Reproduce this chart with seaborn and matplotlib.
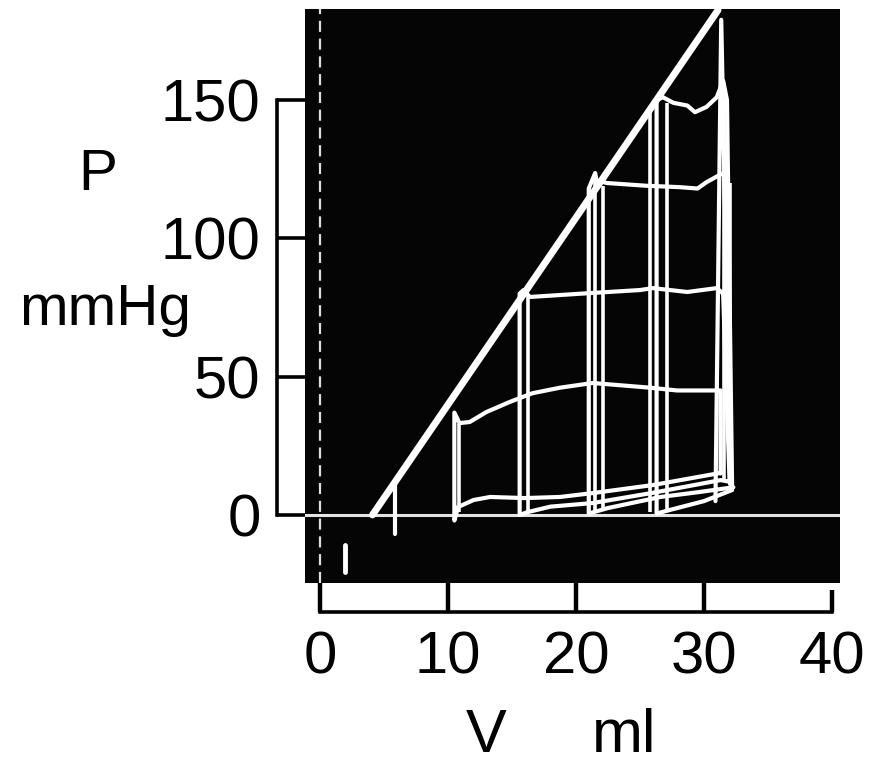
import matplotlib
matplotlib.use("Agg")
import matplotlib.pyplot as plt
import seaborn as sns
import pandas as pd

# ---------------- data ----------------
# end-systolic pressure-volume line
espvr_v = [4.1, 31.1]
espvr_p = [0.0, 182.5]

# individual pressure-volume loops (V in ml, P in mmHg)
loop_a_v = [32.2, 31.8, 31.5, 31.0, 30.2, 29.3, 28.7, 27.6, 26.8, 26.3, 26.3, 27.5, 30.0, 32.2]
loop_a_p = [10.0, 150.0, 157.0, 151.0, 147.5, 145.6, 148.0, 149.0, 151.0, 150.0, 0.5, 2.0, 5.0, 9.0]

loop_b_v = [32.1, 31.6, 31.5, 30.2, 29.5, 28.1, 25.5, 22.4, 21.6, 21.5, 21.0, 21.0, 22.5, 26.6, 29.5, 32.3]
loop_b_p = [11.0, 122.0, 123.6, 120.3, 118.0, 118.5, 119.0, 120.0, 121.0, 123.6, 118.0, 0.5, 2.5, 6.5, 8.2, 10.0]

loop_c_v = [32.0, 31.5, 31.0, 28.7, 26.0, 25.0, 21.1, 16.4, 15.9, 15.6, 15.6, 16.2, 18.0, 21.3, 26.0, 31.3, 32.0]
loop_c_p = [12.0, 80.0, 82.0, 80.6, 82.0, 81.3, 80.2, 78.8, 81.3, 80.0, 0.0, 1.0, 3.0, 4.3, 8.0, 12.6, 12.0]

loop_d_v = [31.3, 31.3, 27.9, 25.8, 21.3, 18.75, 16.6, 14.8, 13.0, 11.7, 10.9, 10.5, 10.5, 10.8, 12.0, 13.3, 16.0, 18.75, 21.3, 26.0, 31.3]
loop_d_p = [15.0, 45.0, 45.0, 46.0, 47.7, 46.0, 44.0, 40.8, 37.2, 33.6, 33.2, 37.0, -2.0, 2.9, 5.4, 6.5, 6.1, 6.5, 7.9, 10.8, 15.2]

loop_f_v = [32.1, 31.35, 30.9]          # near-isovolumic beat
loop_f_p = [9.0, 179.0, 5.0]

loop_e_v = [5.9, 5.9]                   # smallest beat
loop_e_p = [-7.0, 11.5]

# repeated beats: extra vertical traces
vert_v = [10.9, 16.25, 21.5, 22.1, 25.8, 27.1, 31.6, 32.0]
vert_top = [33.0, 79.0, 121.0, 119.0, 146.0, 149.0, 150.0, 120.0]
vert_bot = [1.0, 1.0, 1.0, 2.0, 1.0, 2.0, 12.0, 11.0]

# calibration mark below the baseline
mark_v = [1.95, 1.95]
mark_p = [-10.8, -20.6]

x_ticks = [0, 10, 20, 30, 40]
y_ticks = [0, 50, 100, 150]

# ---------------- figure ----------------
sns.set_style("ticks")
W, H = 869, 767
fig = plt.figure(figsize=(W / 100, H / 100), dpi=100)
ax = fig.add_axes([305 / W, 1 - 583 / H, (840 - 305) / W, (583 - 9) / H])
ax.set_facecolor("#050505")

loops = [("a", loop_a_v, loop_a_p), ("b", loop_b_v, loop_b_p), ("c", loop_c_v, loop_c_p),
         ("d", loop_d_v, loop_d_p), ("e", loop_e_v, loop_e_p), ("f", loop_f_v, loop_f_p)]
rows = []
for name, vs, ps in loops:
    for i, (v, p) in enumerate(zip(vs, ps)):
        rows.append({"beat": name, "i": i, "V": v, "P": p})
df = pd.DataFrame(rows)

# baseline and dashed zero-volume line
ax.axhline(0, color="#e4e4e4", lw=2.2, zorder=1)
ax.axvline(0, color="#dddddd", lw=1.6, ls=(0, (5, 3)), zorder=1)

sns.lineplot(data=df, x="V", y="P", units="beat", estimator=None, sort=False,
             color="white", linewidth=3.0, ax=ax, zorder=3)
ax.vlines(vert_v, vert_bot, vert_top, color="white", lw=2.6, zorder=3)
sns.lineplot(x=espvr_v, y=espvr_p, color="white", linewidth=5.0, ax=ax, zorder=4)
ax.plot(mark_v, mark_p, color="white", lw=3.5, solid_capstyle="round", zorder=3)

for ln in ax.lines:
    ln.set_solid_capstyle("round")
    ln.set_solid_joinstyle("round")

ax.set_xlim(-1.17, 40.63)
ax.set_ylim(-24.6, 182.9)
ax.set_xlabel("")
ax.set_ylabel("")

# spines / ticks
for s in ["top", "right"]:
    ax.spines[s].set_visible(False)
ax.spines["left"].set_position(("outward", 20))
ax.spines["left"].set_bounds(0, 150)
ax.spines["bottom"].set_position(("outward", 21))
ax.spines["bottom"].set_bounds(0, 40)
for s in ["left", "bottom"]:
    ax.spines[s].set_linewidth(2.6)
    ax.spines[s].set_color("black")

ax.set_xticks(x_ticks)
ax.set_yticks(y_ticks)
ax.set_xticklabels([str(t) for t in x_ticks])
ax.set_yticklabels([str(t) for t in y_ticks])

num_font = ["Liberation Sans", "DejaVu Sans"]
txt_font = ["Liberation Sans", "DejaVu Sans"]
ax.tick_params(axis="y", direction="in", length=20, width=2.6, pad=12, colors="black")
ax.tick_params(axis="x", direction="in", length=21.5, width=3.2, pad=13, colors="black")
for lab in ax.get_xticklabels() + ax.get_yticklabels():
    lab.set_fontfamily(num_font)
    lab.set_fontsize(43)
ax.xaxis.get_major_ticks()[-1].tick1line.set_markersize(16)

fig.text(98 / W, 1 - 190 / H, "P", ha="center", va="baseline", fontsize=42,
         family=txt_font, color="black")
fig.text(105 / W, 1 - 325 / H, "mmHg", ha="center", va="baseline", fontsize=42,
         family=txt_font, color="black")
fig.text(486 / W, 1 - 752 / H, "V", ha="center", va="baseline", fontsize=44,
         family=txt_font, color="black")
fig.text(624 / W, 1 - 752 / H, "ml", ha="center", va="baseline", fontsize=44,
         family=txt_font, color="black")

fig.savefig("out.png", dpi=100, facecolor="white")
